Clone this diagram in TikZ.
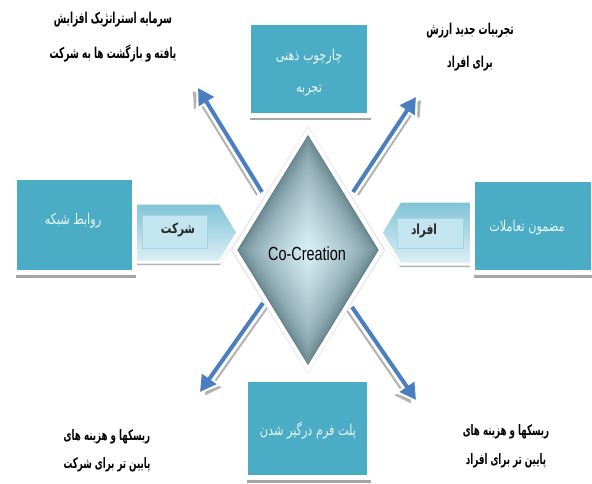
\documentclass[tikz,border=0pt]{standalone}
\usepackage{fontspec}
\TeXXeTstate=1
\newfontfamily\fablack[Script=Arabic,FakeStretch=0.6]{DejaVu Sans}
\newfontfamily\fabox[Script=Arabic,FakeStretch=0.75]{DejaVu Sans}
\newfontfamily\cofont[FakeStretch=0.76]{Liberation Sans}
\usetikzlibrary{shapes.geometric,arrows.meta,shadows}
\definecolor{boxteal}{HTML}{4BACC6}
\definecolor{boxtext}{HTML}{EAF7FB}
\definecolor{ddark}{HTML}{5F7E87}
\definecolor{dlight}{HTML}{D6EEF5}
\definecolor{arrblue}{HTML}{4A7EC0}
\definecolor{chtop}{HTML}{7FC3D7}
\definecolor{chbot}{HTML}{DDF0F5}
\definecolor{chin}{HTML}{C2E5EF}
\definecolor{chinline}{HTML}{A6D4E2}
\tikzset{
  tealbox/.style={rectangle, fill=boxteal, draw=white, line width=5pt, inner sep=0pt,
    drop shadow={shadow xshift=1.5pt, shadow yshift=-5pt, fill=black!35, opacity=1}},
  boxlabel/.style={font=\fabox\fontsize{15}{17}\selectfont, text=boxtext, align=center, inner sep=0pt},
  blacklabel/.style={text=black, align=center, inner sep=0pt},
  chev/.style={top color=chtop, bottom color=chbot, draw=white, line width=3pt,
    drop shadow={shadow xshift=0pt, shadow yshift=-3pt, fill=black!30, opacity=1}},
  chevin/.style={rectangle, fill=chin, draw=chinline, line width=0.6pt, inner sep=0pt},
  chevlabel/.style={font=\fabox\bfseries\fontsize{14}{16}\selectfont, text=black!85, inner sep=0pt},
  arrshadow/.style={draw=black!30, line width=2pt, -{Triangle[length=16pt,width=17pt]}},
  arrhalo/.style={draw=white, line width=9pt, -{Triangle[length=21pt,width=25pt]}, shorten >=-3pt},
  arrmain/.style={draw=arrblue, line width=4pt, -{Triangle[length=16pt,width=17pt]}},
}
\begin{document}
\begin{tikzpicture}[x=1pt,y=-1pt]
\useasboundingbox (0,0) rectangle (592,484);
\fill[white] (0,0) rectangle (592,484);

% diagonal arrow end points
\coordinate (nwTail) at (262,192);
\coordinate (nwTip) at (198,88);
\coordinate (neTail) at (353,192);
\coordinate (neTip) at (416,97);
\coordinate (swTail) at (263,303);
\coordinate (swTip) at (200,392);
\coordinate (seTail) at (352,307);
\coordinate (seTip) at (416,400);

\draw[arrshadow] ([shift={(-5,3)}]nwTail) -- ([shift={(-5,3)}]nwTip);
\draw[arrshadow] ([shift={(5,3)}]neTail) -- ([shift={(5,3)}]neTip);
\draw[arrshadow] ([shift={(5,3.5)}]swTail) -- ([shift={(5,3.5)}]swTip);
\draw[arrshadow] ([shift={(-5,3.5)}]seTail) -- ([shift={(-5,3.5)}]seTip);
\foreach \a in {nw,ne,sw,se}{
  \draw[arrhalo] (\a Tail) -- (\a Tip);
  \draw[arrmain] (\a Tail) -- (\a Tip);
}

% chevrons
\path[chev] (133,203) -- (220,203) -- (238,232.5) -- (220,262) -- (133,262) -- cycle;
\node[chevin, minimum width=65pt, minimum height=33pt] (chL) at (174.5,231.5) {};
\node[chevlabel] (chLt) at (178,230) {\beginR شرکت\endR};
\path[chev] (474,201) -- (400,201) -- (381,232.5) -- (400,264) -- (474,264) -- cycle;
\node[chevin, minimum width=66pt, minimum height=30pt] (chR) at (430,233) {};
\node[chevlabel] (chRt) at (424,231) {\beginR افراد\endR};

% diamond
\foreach \i in {0,...,24}{
  \pgfmathsetmacro\s{1-\i/25.5}
  \pgfmathtruncatemacro\p{100*(\i/24)^0.6}
  \fill[dlight!\p!ddark] (308,{250-118*\s}) -- ({308+72*\s},250) -- (308,{250+118*\s}) -- ({308-72*\s},250) -- cycle;
}
\node[diamond, minimum width=153pt, minimum height=245pt, inner sep=0pt, draw=black!10, line width=2pt] (diaout) at (308,250) {};
\node[diamond, minimum width=148pt, minimum height=240pt, inner sep=0pt, draw=white, line width=4pt] (dia) at (308,250) {};
\node[font=\cofont\fontsize{19}{22}\selectfont, text=black, inner sep=0pt] (co) at (307,254) {Co-Creation};

% boxes
\node[tealbox, minimum width=121pt, minimum height=93pt] (top) at (309,69) {};
\node[boxlabel] (top1) at (309,57) {\beginR چارچوب ذهنی\endR};
\node[boxlabel] (top2) at (309,91) {\beginR تجربه\endR};

\node[tealbox, minimum width=120pt, minimum height=95pt] (left) at (74.5,225) {};
\node[boxlabel] (leftt) at (73,221) {\beginR روابط شبکه\endR};

\node[tealbox, minimum width=121pt, minimum height=93pt] (right) at (533,226) {};
\node[boxlabel] (rightt) at (527,228) {\beginR مضمون تعاملات\endR};

\node[tealbox, minimum width=124pt, minimum height=98pt] (bottom) at (307.5,428.5) {};
\node[boxlabel] (bottomt) at (308,431) {\beginR پلت فرم درگیر شدن\endR};

% outer texts
\node[blacklabel, font=\fablack\bfseries\fontsize{15}{35}\selectfont] (nwt) at (113,37)
  {\beginR سرمایه استراتژیک افزایش\endR\\ \beginR یافته و بازگشت ها به شرکت\endR};
\node[blacklabel, font=\fablack\bfseries\fontsize{15}{33}\selectfont] (net) at (470,47)
  {\beginR تجربیات جدید ارزش\endR\\ \beginR برای افراد\endR};
\node[blacklabel, font=\fablack\bfseries\fontsize{14.5}{28}\selectfont] (swt) at (107,451)
  {\beginR ریسکها و هزینه های\endR\\ \beginR پایین تر برای شرکت\endR};
\node[blacklabel, font=\fablack\bfseries\fontsize{14.5}{29}\selectfont] (set) at (506,446)
  {\beginR ریسکها و هزینه های\endR\\ \beginR پایین تر برای افراد\endR};
\end{tikzpicture}
\end{document}
